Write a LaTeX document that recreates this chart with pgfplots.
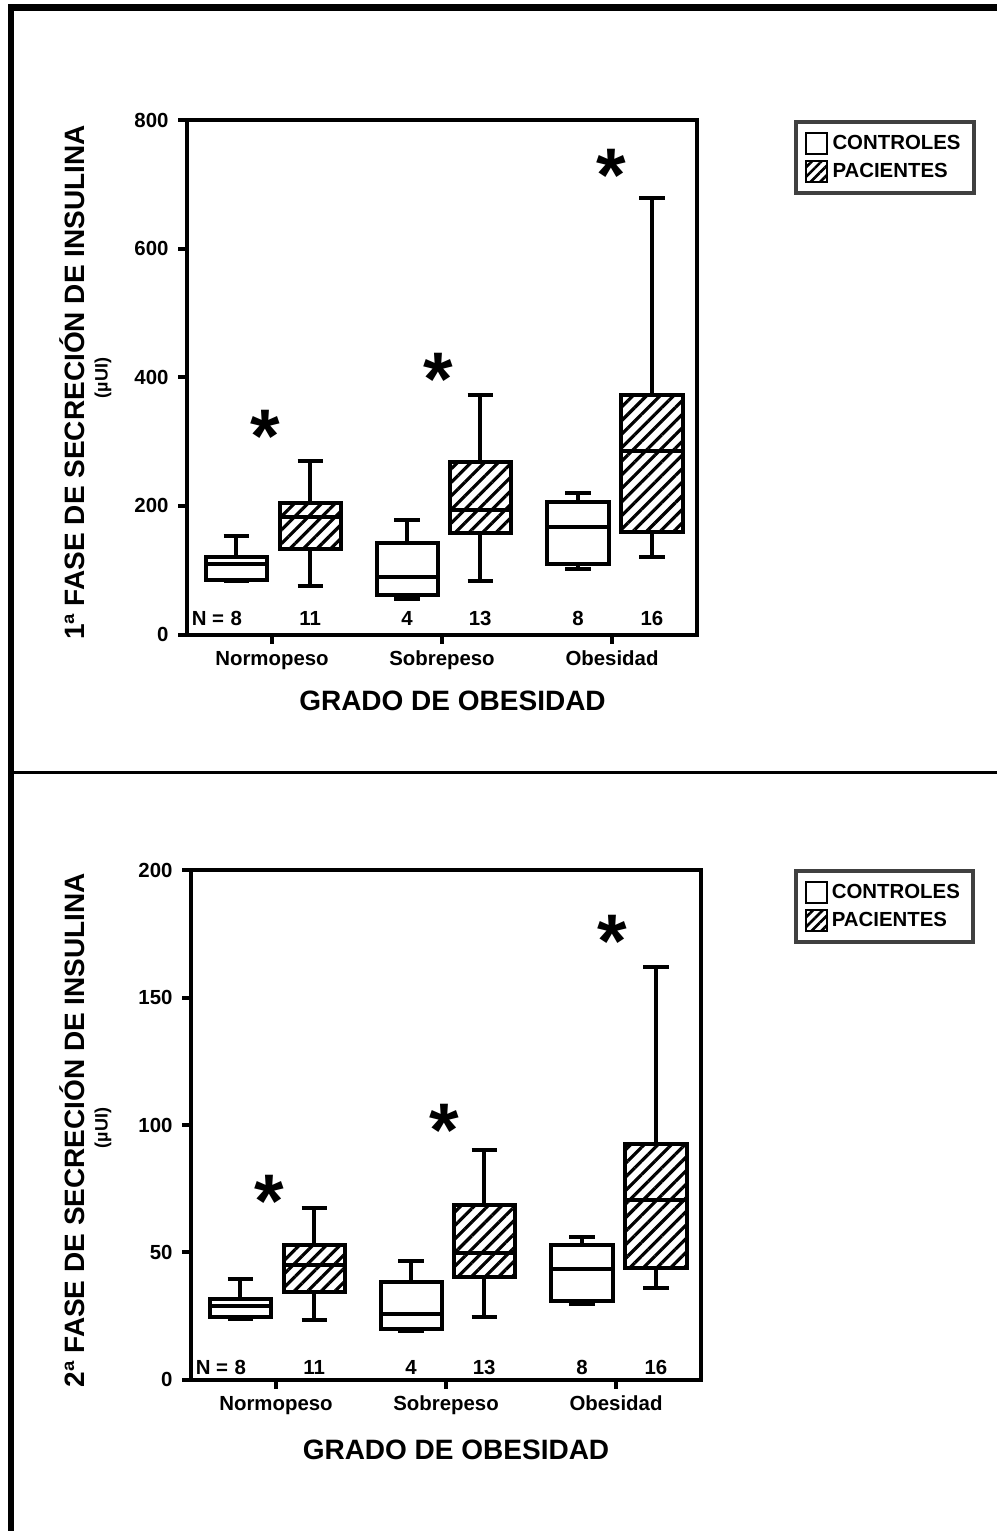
\documentclass[border=0pt]{standalone}
\usepackage{fontspec}
\setmainfont{Liberation Sans}
\usepackage{pgfplots}
\pgfplotsset{compat=1.18}
\usepgfplotslibrary{statistics}
\usetikzlibrary{patterns.meta}

\newcommand\lblfont{\bfseries\fontsize{10.2}{12}\selectfont}
\newcommand\ttlfont{\bfseries\fontsize{14}{16}\selectfont}
\newcommand\astfont{\bfseries\fontsize{38}{38}\selectfont}

\pgfplotsset{
  panel/.style={
    scale only axis, width=255pt,
    xmin=0.5, xmax=3.5, ymin=0,
    xtick={1,2,3}, xticklabels={Normopeso,Sobrepeso,Obesidad},
    tick align=outside, xtick pos=bottom, ytick pos=left,
    major tick length=4.5pt,
    every tick/.style={black, line width=2pt},
    axis line style={line width=2pt},
    tick label style={font=\lblfont},
    yticklabel style={xshift=-1.2pt},
    xticklabel style={text height=7.4pt, text depth=2.2pt},
    /pgf/number format/assume math mode=true,
    clip=false,
    boxplot/draw direction=y,
    legend cell align=left,
    legend style={draw=black!75, line width=2pt, anchor=north west,
      font=\lblfont, inner xsep=4.5pt, inner ysep=4.4pt, row sep=1.5pt},
  },
  ctrl/.style={forget plot, black, line width=2pt, solid,
    boxplot/every box/.style={fill=white}},
  pac/.style={forget plot, black, line width=2pt, solid,
    boxplot/every box/.style={pattern={Lines[angle=45,distance=4.8pt,line width=1.6pt]}}},
}

% one box: draw position, lower whisker, lower quartile, median, upper quartile, upper whisker
\newcommand\caja[7]{%
  \addplot[#1, boxplot prepared={draw position=#2, lower whisker=#3,
    lower quartile=#4, median=#5, upper quartile=#6, upper whisker=#7,
    box extend=0.36, whisker extend=0.15}] coordinates {};}

\newcommand\leyenda{%
  \addlegendimage{legend image code/.code={\draw[line width=1pt,fill=white] (0pt,-5.25pt) rectangle (10.5pt,5.25pt);}}
  \addlegendentry{CONTROLES}
  \addlegendimage{legend image code/.code={\draw[line width=1pt,pattern={Lines[angle=45,distance=3.4pt,line width=1.3pt]}] (0pt,-5.25pt) rectangle (10.5pt,5.25pt);}}
  \addlegendentry{PACIENTES}}

\begin{document}
\begin{tikzpicture}

% ---------- 1a fase ----------
\begin{axis}[panel, at={(93.5pt,-317.25pt)}, anchor=south west,
  height=257.25pt, ymax=800, ytick={0,200,400,600,800},
  legend style={at={(axis description cs:1.190,1.0)}}]
\leyenda
\caja{ctrl}{0.790}{83.6}{84.7}{109.5}{121.0}{152.7}
\caja{pac}{1.225}{75.0}{132.6}{183.0}{204.6}{269.7}
\caja{ctrl}{1.795}{54.8}{61.7}{89.3}{142.4}{177.5}
\caja{pac}{2.225}{83.6}{158.5}{193.0}{268.0}{372.9}
\caja{ctrl}{2.800}{102.6}{109.5}{167.0}{206.3}{220.7}
\caja{pac}{3.235}{121.0}{160.0}{285.0}{373.0}{679.0}
\node[anchor=north, inner sep=0pt, font=\astfont] at (axis cs:0.960,349) {*};
\node[anchor=north, inner sep=0pt, font=\astfont] at (axis cs:1.976,438) {*};
\node[anchor=north, inner sep=0pt, font=\astfont] at (axis cs:2.994,756) {*};
\node[anchor=west, inner sep=0pt, font=\lblfont] at (axis cs:0.526,25) {N =};
\node[inner sep=0pt, font=\lblfont] at (axis cs:0.790,25) {8};
\node[inner sep=0pt, font=\lblfont] at (axis cs:1.225,25) {11};
\node[inner sep=0pt, font=\lblfont] at (axis cs:1.795,25) {4};
\node[inner sep=0pt, font=\lblfont] at (axis cs:2.225,25) {13};
\node[inner sep=0pt, font=\lblfont] at (axis cs:2.800,25) {8};
\node[inner sep=0pt, font=\lblfont] at (axis cs:3.235,25) {16};
\end{axis}

% ---------- 2a fase ----------
\begin{axis}[panel, at={(95.5pt,-689.85pt)}, anchor=south west,
  height=254.7pt, ymax=200, ytick={0,50,100,150,200},
  legend style={at={(axis description cs:1.182,1.0025)}}]
\leyenda
\caja{ctrl}{0.790}{23.8}{24.5}{29.0}{31.5}{39.5}
\caja{pac}{1.225}{23.5}{34.4}{45.0}{53.0}{67.5}
\caja{ctrl}{1.795}{19.2}{19.9}{25.7}{38.5}{46.8}
\caja{pac}{2.225}{24.7}{40.5}{49.7}{68.6}{90.3}
\caja{ctrl}{2.800}{29.8}{31.1}{43.6}{53.0}{56.2}
\caja{pac}{3.235}{36.2}{43.9}{70.7}{92.5}{162.0}
\node[anchor=north, inner sep=0pt, font=\astfont] at (axis cs:0.960,80.6) {*};
\node[anchor=north, inner sep=0pt, font=\astfont] at (axis cs:1.990,108.5) {*};
\node[anchor=north, inner sep=0pt, font=\astfont] at (axis cs:2.976,182.6) {*};
\node[anchor=west, inner sep=0pt, font=\lblfont] at (axis cs:0.526,4.8) {N =};
\node[inner sep=0pt, font=\lblfont] at (axis cs:0.790,4.8) {8};
\node[inner sep=0pt, font=\lblfont] at (axis cs:1.225,4.8) {11};
\node[inner sep=0pt, font=\lblfont] at (axis cs:1.795,4.8) {4};
\node[inner sep=0pt, font=\lblfont] at (axis cs:2.225,4.8) {13};
\node[inner sep=0pt, font=\lblfont] at (axis cs:2.800,4.8) {8};
\node[inner sep=0pt, font=\lblfont] at (axis cs:3.235,4.8) {16};
\end{axis}

% ---------- frame and titles (1 unit = 1 px of the page) ----------
\begin{scope}[x=0.5pt, y=-0.5pt]
\fill (7.5,4) rectangle (997,11);
\fill (7.5,4) rectangle (14,1531);
\fill (14,771) rectangle (997,774);
\node[rotate=90, font=\ttlfont] at (72,382.5) {1ª FASE DE SECRECIÓN DE INSULINA};
\node[rotate=90, font=\bfseries\fontsize{9}{11}\selectfont] at (103,378) {(µUI)};
\node[font=\ttlfont] at (452.5,701) {GRADO DE OBESIDAD};
\node[rotate=90, font=\ttlfont] at (72,1130) {2ª FASE DE SECRECIÓN DE INSULINA};
\node[rotate=90, font=\bfseries\fontsize{9}{11}\selectfont] at (103,1128) {(µUI)};
\node[font=\ttlfont] at (456,1450) {GRADO DE OBESIDAD};
\pgfresetboundingbox
\path[use as bounding box] (0,0) rectangle (997,1531);
\end{scope}
\end{tikzpicture}
\end{document}
